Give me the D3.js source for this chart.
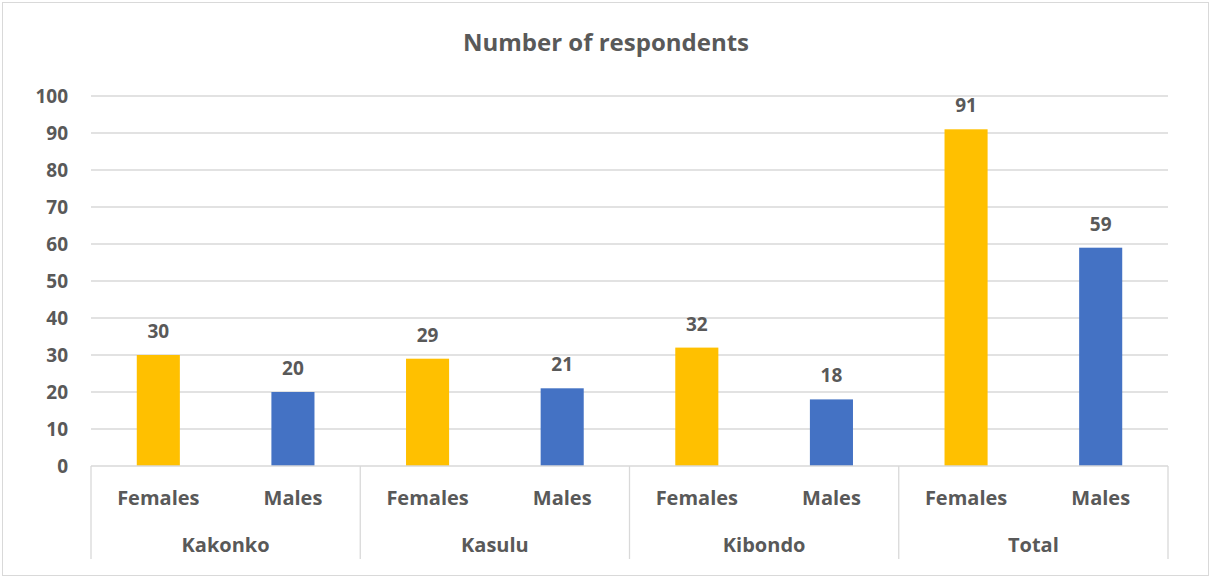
<!DOCTYPE html>
<html>
<head>
<meta charset="utf-8">
<script src="https://cdn.jsdelivr.net/npm/d3@7"></script>
<style>
  body { margin: 0; background: #fff; }
  text { font-family: "Open Sans", "Noto Sans", sans-serif; font-weight: bold; fill: #595959; }
</style>
</head>
<body>
<script>
const districts = ['Kakonko', 'Kasulu', 'Kibondo', 'Total']
const sexes = ['Females', 'Males']
const females = [30, 29, 32, 91]
const males = [20, 21, 18, 59]
const yTicks = [0, 10, 20, 30, 40, 50, 60, 70, 80, 90, 100]
const colors = { Females: '#FFC000', Males: '#4472C4' }

const m = { width: 1212, height: 577, left: 91, right: 1168, top: 96, bottom: 466 }

const rows = []
districts.forEach((d, i) => {
    rows.push({ district: d, sex: 'Females', value: females[i] })
    rows.push({ district: d, sex: 'Males', value: males[i] })
})

const svg = d3.select('body').append('svg')
    .attr('width', m.width)
    .attr('height', m.height)

svg.append('rect')
    .attr('x', 2.5).attr('y', 2.5)
    .attr('width', m.width - 6).attr('height', m.height - 4)
    .attr('fill', '#fff')
    .attr('stroke', '#d9d9d9')

svg.append('text')
    .attr('x', 606)
    .attr('y', 51)
    .attr('text-anchor', 'middle')
    .style('font-size', '24px')
    .text('Number of respondents')

const y = d3.scaleLinear().domain([0, 100]).range([m.bottom, m.top])

const xGroup = d3.scaleBand().domain(districts).range([m.left, m.right])
const xSex = d3.scaleBand().domain(sexes).range([0, xGroup.bandwidth()]).paddingInner(0.68).paddingOuter(0.34)

// gridlines
svg.append('g')
    .selectAll('line')
    .data(yTicks.slice(1))
    .enter()
    .append('line')
    .attr('x1', m.left).attr('x2', m.right)
    .attr('y1', d => y(d)).attr('y2', d => y(d))
    .attr('stroke', '#d9d9d9')
    .attr('stroke-width', 1.3)

svg.append('g')
    .selectAll('text')
    .data(yTicks)
    .enter()
    .append('text')
    .attr('x', 68)
    .attr('y', d => y(d) + 7)
    .attr('text-anchor', 'end')
    .style('font-size', '19px')
    .text(d => d)

// bars
svg.append('g')
    .selectAll('rect')
    .data(rows)
    .enter()
    .append('rect')
    .attr('x', d => xGroup(d.district) + xSex(d.sex))
    .attr('y', d => y(d.value))
    .attr('width', xSex.bandwidth())
    .attr('height', d => y(0) - y(d.value))
    .attr('fill', d => colors[d.sex])

svg.append('g')
    .selectAll('text')
    .data(rows)
    .enter()
    .append('text')
    .attr('x', d => xGroup(d.district) + xSex(d.sex) + xSex.bandwidth() / 2)
    .attr('y', d => y(d.value) - 17)
    .attr('text-anchor', 'middle')
    .style('font-size', '19px')
    .text(d => d.value)

// category axis
const axis = svg.append('g').attr('stroke', '#d9d9d9').attr('stroke-width', 1.3)
axis.append('line')
    .attr('x1', m.left).attr('x2', m.right)
    .attr('y1', m.bottom).attr('y2', m.bottom)
axis.selectAll('.sep')
    .data(districts.map(d => xGroup(d)).concat([m.right]))
    .enter()
    .append('line')
    .attr('x1', d => d).attr('x2', d => d)
    .attr('y1', m.bottom).attr('y2', 559)

svg.append('g')
    .selectAll('text')
    .data(rows)
    .enter()
    .append('text')
    .attr('x', d => xGroup(d.district) + xSex(d.sex) + xSex.bandwidth() / 2)
    .attr('y', 505)
    .attr('text-anchor', 'middle')
    .style('font-size', '20px')
    .text(d => d.sex)

svg.append('g')
    .selectAll('text')
    .data(districts)
    .enter()
    .append('text')
    .attr('x', d => xGroup(d) + xGroup.bandwidth() / 2)
    .attr('y', 552)
    .attr('text-anchor', 'middle')
    .style('font-size', '20px')
    .text(d => d)
</script>
</body>
</html>
